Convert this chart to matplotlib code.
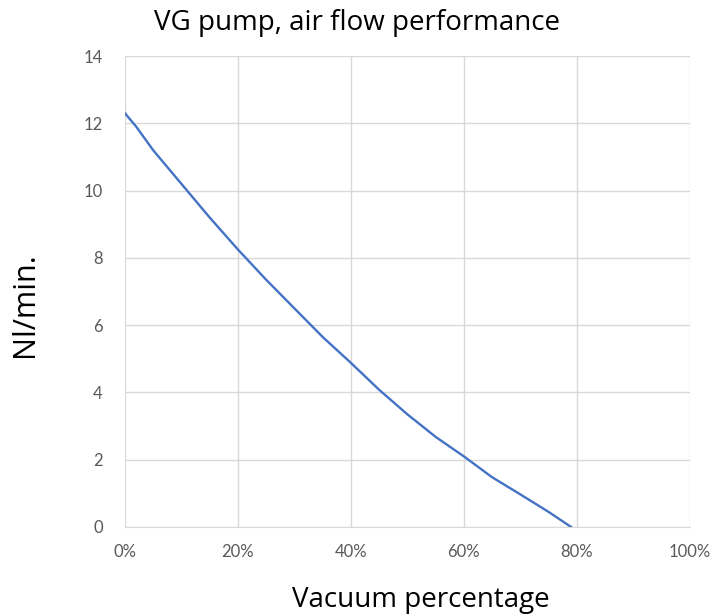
import matplotlib.pyplot as plt
from matplotlib.ticker import PercentFormatter

vacuum_pct = [0, 2, 5, 8, 10, 15, 20, 25, 30, 35, 40, 45, 50, 55, 60, 65, 70, 75, 79]
flow_nl_min = [12.3, 11.9, 11.2, 10.6, 10.2, 9.2, 8.25, 7.35, 6.5, 5.65, 4.88, 4.08,
               3.35, 2.68, 2.1, 1.48, 0.97, 0.45, 0.0]

x_ticks = [0, 20, 40, 60, 80, 100]
y_ticks = [0, 2, 4, 6, 8, 10, 12, 14]

plt.rcParams['font.family'] = ['Open Sans', 'DejaVu Sans']

fig = plt.figure(figsize=(7.14, 6.16), dpi=100)
ax = fig.add_axes([0.175, 0.1445, 0.791, 0.7645])

ax.plot(vacuum_pct, flow_nl_min, color="#4472C4", linewidth=1.7)

ax.set_xlim(0, 100)
ax.set_ylim(0, 14)
ax.set_xticks(x_ticks)
ax.set_yticks(y_ticks)
ax.xaxis.set_major_formatter(PercentFormatter(decimals=0))
ax.grid(True, color="#d9d9d9", linewidth=1)
ax.set_axisbelow(True)
for side in ["top", "right", "left"]:
    ax.spines[side].set_visible(False)
ax.spines["bottom"].set_color("#d9d9d9")
ax.tick_params(length=0, labelcolor="#595959", labelsize=12, pad=12)
ax.tick_params(axis="y", pad=16)
for lbl in ax.get_xticklabels() + ax.get_yticklabels():
    lbl.set_family(['Lato', 'DejaVu Sans'])

fig.text(0.5, 0.951, "VG pump, air flow performance", ha="center", va="baseline", fontsize=20)
fig.text(0.59, 0.015, "Vacuum percentage", ha="center", va="baseline", fontsize=20)
fig.text(0.035, 0.505, "Nl/min.", ha="center", va="center", rotation=90, fontsize=22)

fig.savefig("out.png", dpi=100)
